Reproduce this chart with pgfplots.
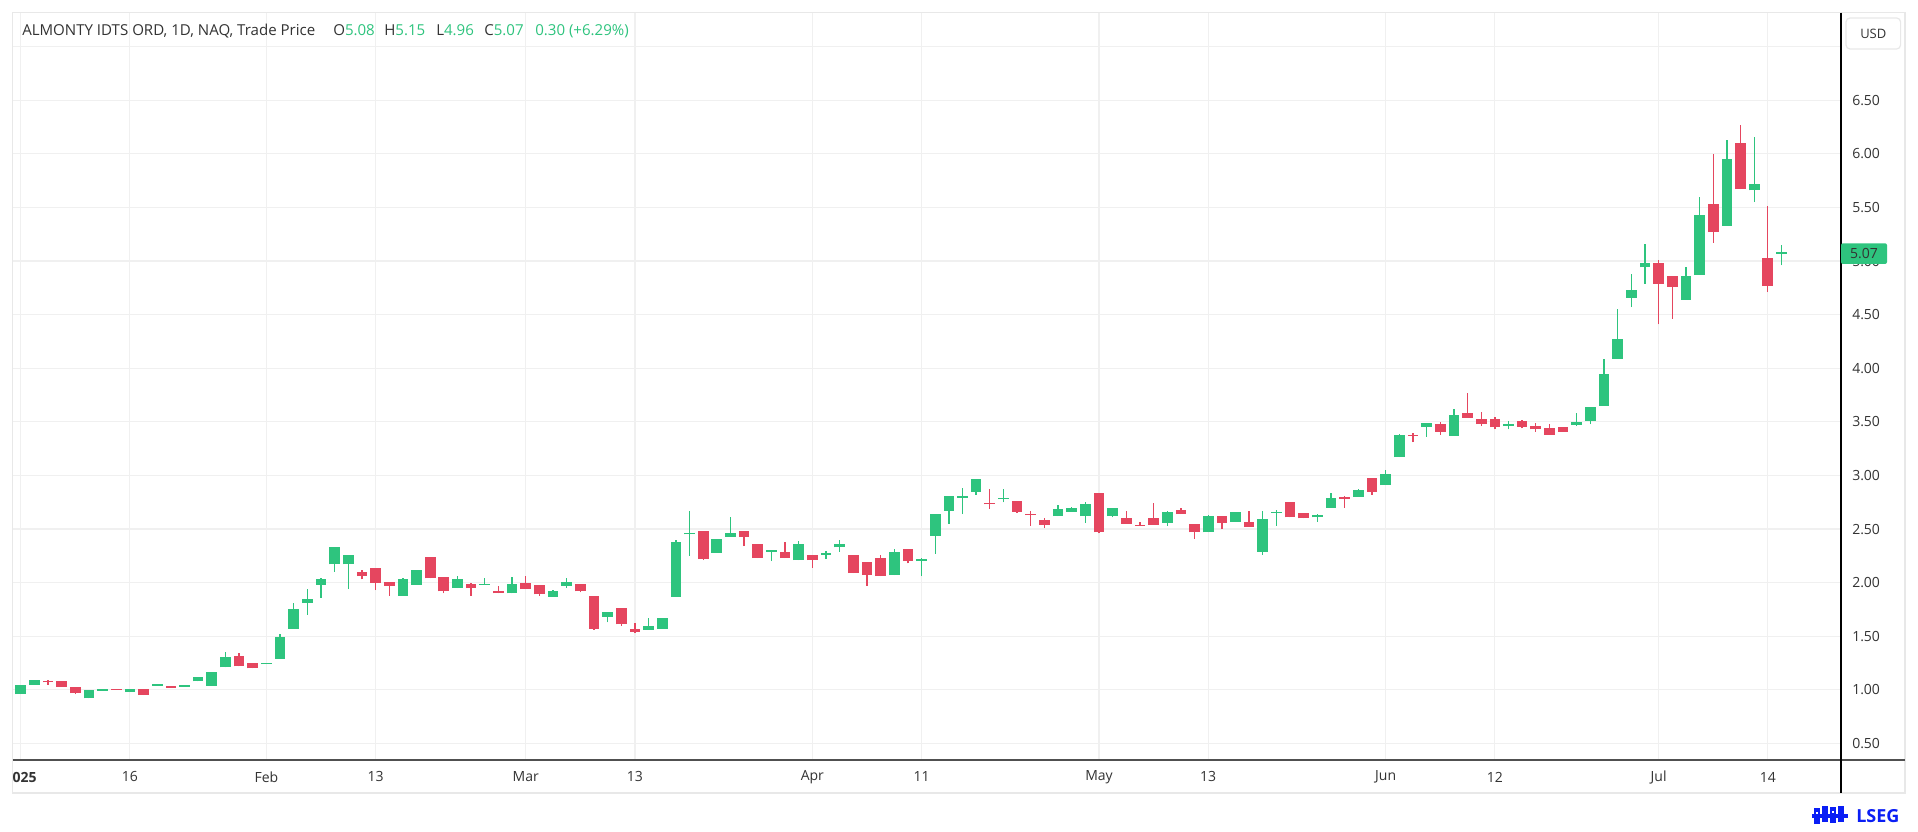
\documentclass[border=0pt]{standalone}
\usepackage{pgfplots}
\pgfplotsset{compat=1.18}
\usepackage{pgfplotstable}
\usepackage{fontspec}
\setmainfont{Open Sans}
\definecolor{cgreen}{RGB}{46,196,126}
\definecolor{cred}{RGB}{229,70,95}
\definecolor{gridgray}{RGB}{240,240,240}
\definecolor{bordergray}{RGB}{232,232,232}
\definecolor{textgray}{RGB}{51,51,51}
\definecolor{axisgray}{RGB}{80,80,80}
\definecolor{lsegblue}{RGB}{10,30,245}

\pgfplotstableread{
x o h l c
0 0.96 1.05 0.96 1.05
1 1.05 1.09 1.05 1.09
5 0.92 1.00 0.92 1.00
6 0.99 1.01 0.99 1.01
8 0.98 1.01 0.98 1.01
10 1.04 1.05 1.04 1.05
12 1.03 1.04 1.03 1.04
13 1.08 1.12 1.08 1.12
14 1.04 1.17 1.04 1.17
15 1.21 1.35 1.21 1.31
18 1.24 1.25 1.24 1.25
19 1.29 1.52 1.29 1.49
20 1.57 1.81 1.57 1.75
21 1.81 1.94 1.70 1.85
22 1.98 2.04 1.86 2.03
23 2.17 2.33 2.10 2.33
24 2.17 2.26 1.94 2.26
28 1.88 2.04 1.88 2.03
29 1.98 2.12 1.98 2.12
32 1.95 2.06 1.95 2.03
34 1.98 2.04 1.98 1.99
36 1.90 2.05 1.90 1.99
39 1.87 1.93 1.87 1.92
40 1.97 2.04 1.95 2.01
43 1.68 1.73 1.63 1.73
46 1.56 1.67 1.56 1.60
47 1.57 1.67 1.57 1.67
48 1.87 2.40 1.87 2.38
49 2.45 2.67 2.25 2.46
51 2.28 2.41 2.28 2.41
52 2.43 2.61 2.43 2.46
55 2.29 2.30 2.20 2.30
57 2.21 2.39 2.21 2.36
59 2.26 2.30 2.22 2.28
60 2.33 2.40 2.29 2.36
64 2.07 2.31 2.07 2.29
66 2.20 2.23 2.06 2.22
67 2.44 2.64 2.27 2.64
68 2.67 2.81 2.55 2.81
69 2.79 2.88 2.64 2.81
70 2.85 2.97 2.82 2.97
72 2.78 2.87 2.75 2.79
76 2.62 2.72 2.62 2.69
77 2.66 2.71 2.66 2.70
78 2.62 2.75 2.56 2.73
80 2.62 2.70 2.61 2.70
84 2.56 2.67 2.53 2.66
87 2.47 2.63 2.47 2.62
89 2.57 2.66 2.57 2.66
91 2.29 2.67 2.26 2.59
92 2.65 2.68 2.53 2.66
95 2.61 2.64 2.57 2.63
96 2.70 2.84 2.70 2.79
98 2.80 2.87 2.80 2.86
100 2.91 3.05 2.91 3.01
101 3.17 3.39 3.17 3.38
103 3.45 3.49 3.36 3.49
105 3.37 3.62 3.37 3.56
109 3.46 3.51 3.43 3.48
114 3.47 3.58 3.46 3.50
115 3.51 3.64 3.48 3.64
116 3.65 4.09 3.65 3.95
117 4.09 4.55 4.09 4.27
118 4.66 4.88 4.57 4.73
119 4.94 5.16 4.79 4.98
122 4.64 4.94 4.64 4.86
123 4.87 5.60 4.87 5.43
125 5.33 6.13 5.33 5.95
127 5.66 6.16 5.55 5.72
129 5.08 5.15 4.96 5.07
}\upT

\pgfplotstableread{
x o h l c
2 1.08 1.09 1.05 1.07
3 1.08 1.08 1.03 1.03
4 1.03 1.03 0.96 0.97
7 1.01 1.01 1.00 1.00
9 1.01 1.01 0.95 0.95
11 1.03 1.04 1.02 1.02
16 1.32 1.34 1.22 1.22
17 1.25 1.25 1.20 1.20
25 2.10 2.12 2.03 2.06
26 2.14 2.14 1.93 2.00
27 2.01 2.01 1.88 1.97
30 2.24 2.24 2.04 2.04
31 2.05 2.05 1.90 1.92
33 1.99 2.00 1.88 1.95
35 1.92 1.97 1.90 1.90
37 2.00 2.06 1.94 1.94
38 1.98 1.98 1.88 1.89
41 1.99 1.99 1.91 1.92
42 1.88 1.88 1.56 1.57
44 1.76 1.76 1.60 1.61
45 1.57 1.62 1.53 1.54
50 2.48 2.48 2.21 2.22
53 2.48 2.48 2.34 2.43
54 2.36 2.36 2.23 2.23
56 2.29 2.38 2.23 2.23
58 2.26 2.26 2.14 2.21
61 2.26 2.26 2.09 2.09
62 2.19 2.19 1.97 2.07
63 2.23 2.26 2.06 2.06
65 2.31 2.31 2.18 2.20
71 2.74 2.87 2.69 2.73
73 2.76 2.76 2.65 2.66
74 2.64 2.67 2.53 2.63
75 2.58 2.60 2.51 2.54
79 2.84 2.84 2.46 2.47
81 2.60 2.67 2.55 2.55
82 2.54 2.57 2.53 2.53
83 2.60 2.74 2.54 2.54
85 2.68 2.70 2.64 2.64
86 2.55 2.55 2.41 2.47
88 2.62 2.62 2.50 2.56
90 2.57 2.67 2.52 2.52
93 2.75 2.75 2.61 2.61
94 2.65 2.65 2.60 2.60
97 2.80 2.81 2.70 2.78
99 2.98 2.98 2.82 2.85
102 3.38 3.40 3.31 3.37
104 3.48 3.50 3.38 3.41
106 3.58 3.77 3.54 3.54
107 3.53 3.59 3.46 3.48
108 3.53 3.55 3.43 3.45
110 3.51 3.52 3.44 3.45
111 3.46 3.49 3.41 3.43
112 3.44 3.48 3.38 3.38
113 3.45 3.45 3.41 3.41
120 4.98 5.01 4.41 4.79
121 4.86 4.86 4.46 4.76
124 5.53 6.00 5.17 5.27
126 6.10 6.27 5.67 5.67
128 5.03 5.51 4.71 4.77
}\dnT

\begin{document}
\begin{tikzpicture}[x=0.75pt,y=0.75pt]
\fill[white] (0,0) rectangle (1918,832);
\begin{axis}[
  at={(9.525pt,54pt)}, anchor=south west,
  scale only axis, width=1371.2pt, height=560.5pt,
  xmin=-0.586, xmax=133.36, ymin=0.346, ymax=7.317,
  axis line style={draw=none},
  major tick length=0pt,
  xtick={0,8,18,26,37,45,58,66,79,87,100,108,120,128},
  xticklabels={\textbf{2025},16,Feb,13,Mar,13,Apr,11,May,13,Jun,12,Jul,14},
  ytick={0.5,1,1.5,2,2.5,3,3.5,4,4.5,5,5.5,6,6.5,7},
  yticklabels={0.50,1.00,1.50,2.00,2.50,3.00,3.50,4.00,4.50,5.00,5.50,6.00,6.50,{}},
  yticklabel pos=right,
  grid=major,
  grid style={draw=gridgray, line width=0.9pt},
  tick label style={font=\fontsize{10.5}{12}\selectfont, text=textgray},
  xticklabel style={anchor=center, inner sep=0pt, yshift=-12.75pt},
  yticklabel style={anchor=west, inner sep=0pt, xshift=8.25pt},
]
% wicks
\addplot[draw=none, forget plot, error bars/.cd, y dir=plus, y explicit, error mark=none,
  error bar style={draw=cgreen, line width=1pt}]
  table[x=x, y=l, y error plus expr={\thisrow{h}-\thisrow{l}}] {\upT};
\addplot[draw=none, forget plot, error bars/.cd, y dir=plus, y explicit, error mark=none,
  error bar style={draw=cred, line width=1pt}]
  table[x=x, y=l, y error plus expr={\thisrow{h}-\thisrow{l}}] {\dnT};
% bodies
\addplot[draw=none, forget plot, error bars/.cd, y dir=plus, y explicit, error mark=none,
  error bar style={draw=cgreen, line width=8pt}]
  table[x=x, y expr={min(\thisrow{o},\thisrow{c})}, y error plus expr={max(abs(\thisrow{c}-\thisrow{o}),0.012)}] {\upT};
\addplot[draw=none, forget plot, error bars/.cd, y dir=plus, y explicit, error mark=none,
  error bar style={draw=cred, line width=8pt}]
  table[x=x, y expr={min(\thisrow{o},\thisrow{c})}, y error plus expr={max(abs(\thisrow{c}-\thisrow{o}),0.012)}] {\dnT};
\end{axis}
% hide the cut part of the first date label
\fill[white] (0,38) rectangle (12.3,68);
% frame
\draw[bordergray, line width=0.9pt] (12.7,819.3) rectangle (1905,39);
\draw[axisgray, line width=1.3pt] (12.7,72) -- (1905,72);
\draw[black, line width=0.9pt] (1841,819.3) -- (1841,39);
% USD box
\draw[bordergray, line width=0.9pt, fill=white, rounded corners=3pt] (1846,814) rectangle (1900.6,783);
\node[font=\fontsize{9.75}{11}\selectfont, text=textgray] at (1873.3,798.5) {USD};
% last price box
\fill[cgreen, rounded corners=1.5pt] (1841,588.7) rectangle (1887,568);
\node[font=\fontsize{10.5}{12}\selectfont, text=textgray] at (1864,578.4) {5.07};
% title
\begin{scope}[every node/.style={anchor=base west, inner sep=0pt, font=\fontsize{11.3}{13}\selectfont}]
\node[text=textgray] at (22,796.3) {ALMONTY IDTS ORD, 1D, NAQ, Trade Price};
\node at (333,796.3) {\textcolor{textgray}{O}\textcolor{cgreen}{5.08}};
\node at (384,796.3) {\textcolor{textgray}{H}\textcolor{cgreen}{5.15}};
\node at (436,796.3) {\textcolor{textgray}{L}\textcolor{cgreen}{4.96}};
\node at (484,796.3) {\textcolor{textgray}{C}\textcolor{cgreen}{5.07}};
\node at (535,796.3) {\textcolor{cgreen}{0.30 (+6.29\%)}};
\end{scope}
% LSEG logo
\begin{scope}[lsegblue]
\fill (1814,24) rectangle (1820,8);
\fill (1822,26) rectangle (1828,10);
\fill (1830,25) rectangle (1836,9);
\fill (1838,26) rectangle (1844,10);
\fill (1812,18) rectangle (1848,14);
\fill[white] (1816,20) rectangle (1818,18);
\fill[white] (1832,21) rectangle (1834,19);
\end{scope}
\node[anchor=base west, inner sep=0pt, text=lsegblue, font=\bfseries\fontsize{13.5}{15}\selectfont] at (1856,9) {LSEG};
\end{tikzpicture}
\end{document}
